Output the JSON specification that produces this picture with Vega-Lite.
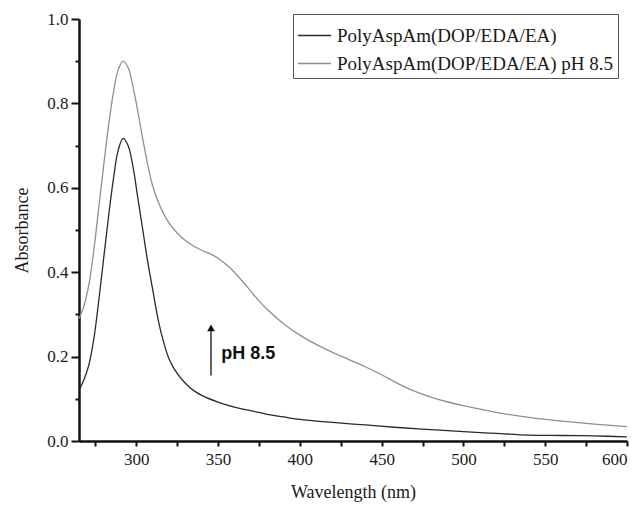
{
  "$schema": "https://vega.github.io/schema/vega-lite/v6.json",
  "width": 548,
  "height": 422,
  "autosize": {"type": "none"},
  "padding": {"left": 79, "top": 19, "right": 15, "bottom": 64},
  "background": "white",
  "config": {
    "view": {"stroke": null},
    "font": "Liberation Serif",
    "axis": {"labelFont": "Liberation Serif", "titleFont": "Liberation Serif", "labelColor": "#1a1a1a", "titleColor": "#1a1a1a", "domainColor": "#111111", "tickColor": "#111111", "grid": false, "labelFontSize": 17, "titleFontSize": 18, "titleFontWeight": "normal", "domain": true, "ticks": true, "domainWidth": 2.5, "tickWidth": 2}
  },
  "datasets": {
    "spectra": [
      {"s": "PolyAspAm(DOP/EDA/EA)", "wl": 265, "a": 0.12},
      {"s": "PolyAspAm(DOP/EDA/EA)", "wl": 268, "a": 0.145},
      {"s": "PolyAspAm(DOP/EDA/EA)", "wl": 271, "a": 0.18},
      {"s": "PolyAspAm(DOP/EDA/EA)", "wl": 274, "a": 0.24},
      {"s": "PolyAspAm(DOP/EDA/EA)", "wl": 277, "a": 0.33},
      {"s": "PolyAspAm(DOP/EDA/EA)", "wl": 280, "a": 0.43},
      {"s": "PolyAspAm(DOP/EDA/EA)", "wl": 283, "a": 0.53},
      {"s": "PolyAspAm(DOP/EDA/EA)", "wl": 286, "a": 0.62},
      {"s": "PolyAspAm(DOP/EDA/EA)", "wl": 289, "a": 0.69},
      {"s": "PolyAspAm(DOP/EDA/EA)", "wl": 292, "a": 0.717},
      {"s": "PolyAspAm(DOP/EDA/EA)", "wl": 295, "a": 0.70},
      {"s": "PolyAspAm(DOP/EDA/EA)", "wl": 298, "a": 0.65},
      {"s": "PolyAspAm(DOP/EDA/EA)", "wl": 301, "a": 0.575},
      {"s": "PolyAspAm(DOP/EDA/EA)", "wl": 304, "a": 0.50},
      {"s": "PolyAspAm(DOP/EDA/EA)", "wl": 307, "a": 0.425},
      {"s": "PolyAspAm(DOP/EDA/EA)", "wl": 310, "a": 0.36},
      {"s": "PolyAspAm(DOP/EDA/EA)", "wl": 313, "a": 0.295},
      {"s": "PolyAspAm(DOP/EDA/EA)", "wl": 316, "a": 0.245},
      {"s": "PolyAspAm(DOP/EDA/EA)", "wl": 320, "a": 0.195},
      {"s": "PolyAspAm(DOP/EDA/EA)", "wl": 325, "a": 0.16},
      {"s": "PolyAspAm(DOP/EDA/EA)", "wl": 330, "a": 0.137},
      {"s": "PolyAspAm(DOP/EDA/EA)", "wl": 335, "a": 0.12},
      {"s": "PolyAspAm(DOP/EDA/EA)", "wl": 340, "a": 0.108},
      {"s": "PolyAspAm(DOP/EDA/EA)", "wl": 350, "a": 0.092},
      {"s": "PolyAspAm(DOP/EDA/EA)", "wl": 360, "a": 0.080},
      {"s": "PolyAspAm(DOP/EDA/EA)", "wl": 370, "a": 0.072},
      {"s": "PolyAspAm(DOP/EDA/EA)", "wl": 380, "a": 0.063},
      {"s": "PolyAspAm(DOP/EDA/EA)", "wl": 390, "a": 0.057},
      {"s": "PolyAspAm(DOP/EDA/EA)", "wl": 400, "a": 0.051},
      {"s": "PolyAspAm(DOP/EDA/EA)", "wl": 420, "a": 0.044},
      {"s": "PolyAspAm(DOP/EDA/EA)", "wl": 440, "a": 0.038},
      {"s": "PolyAspAm(DOP/EDA/EA)", "wl": 460, "a": 0.032},
      {"s": "PolyAspAm(DOP/EDA/EA)", "wl": 480, "a": 0.027},
      {"s": "PolyAspAm(DOP/EDA/EA)", "wl": 500, "a": 0.022},
      {"s": "PolyAspAm(DOP/EDA/EA)", "wl": 520, "a": 0.018},
      {"s": "PolyAspAm(DOP/EDA/EA)", "wl": 540, "a": 0.014},
      {"s": "PolyAspAm(DOP/EDA/EA)", "wl": 560, "a": 0.013},
      {"s": "PolyAspAm(DOP/EDA/EA)", "wl": 580, "a": 0.012},
      {"s": "PolyAspAm(DOP/EDA/EA)", "wl": 600, "a": 0.010},
      {"s": "PolyAspAm(DOP/EDA/EA) pH 8.5", "wl": 265, "a": 0.29},
      {"s": "PolyAspAm(DOP/EDA/EA) pH 8.5", "wl": 268, "a": 0.32},
      {"s": "PolyAspAm(DOP/EDA/EA) pH 8.5", "wl": 271, "a": 0.37},
      {"s": "PolyAspAm(DOP/EDA/EA) pH 8.5", "wl": 274, "a": 0.45},
      {"s": "PolyAspAm(DOP/EDA/EA) pH 8.5", "wl": 277, "a": 0.55},
      {"s": "PolyAspAm(DOP/EDA/EA) pH 8.5", "wl": 280, "a": 0.65},
      {"s": "PolyAspAm(DOP/EDA/EA) pH 8.5", "wl": 283, "a": 0.745},
      {"s": "PolyAspAm(DOP/EDA/EA) pH 8.5", "wl": 286, "a": 0.825},
      {"s": "PolyAspAm(DOP/EDA/EA) pH 8.5", "wl": 289, "a": 0.88},
      {"s": "PolyAspAm(DOP/EDA/EA) pH 8.5", "wl": 292, "a": 0.90},
      {"s": "PolyAspAm(DOP/EDA/EA) pH 8.5", "wl": 295, "a": 0.885},
      {"s": "PolyAspAm(DOP/EDA/EA) pH 8.5", "wl": 298, "a": 0.84},
      {"s": "PolyAspAm(DOP/EDA/EA) pH 8.5", "wl": 301, "a": 0.78},
      {"s": "PolyAspAm(DOP/EDA/EA) pH 8.5", "wl": 304, "a": 0.715},
      {"s": "PolyAspAm(DOP/EDA/EA) pH 8.5", "wl": 307, "a": 0.655},
      {"s": "PolyAspAm(DOP/EDA/EA) pH 8.5", "wl": 310, "a": 0.605},
      {"s": "PolyAspAm(DOP/EDA/EA) pH 8.5", "wl": 315, "a": 0.552},
      {"s": "PolyAspAm(DOP/EDA/EA) pH 8.5", "wl": 320, "a": 0.517},
      {"s": "PolyAspAm(DOP/EDA/EA) pH 8.5", "wl": 325, "a": 0.493},
      {"s": "PolyAspAm(DOP/EDA/EA) pH 8.5", "wl": 330, "a": 0.475},
      {"s": "PolyAspAm(DOP/EDA/EA) pH 8.5", "wl": 335, "a": 0.462},
      {"s": "PolyAspAm(DOP/EDA/EA) pH 8.5", "wl": 340, "a": 0.452},
      {"s": "PolyAspAm(DOP/EDA/EA) pH 8.5", "wl": 345, "a": 0.444},
      {"s": "PolyAspAm(DOP/EDA/EA) pH 8.5", "wl": 350, "a": 0.433},
      {"s": "PolyAspAm(DOP/EDA/EA) pH 8.5", "wl": 355, "a": 0.418},
      {"s": "PolyAspAm(DOP/EDA/EA) pH 8.5", "wl": 360, "a": 0.40},
      {"s": "PolyAspAm(DOP/EDA/EA) pH 8.5", "wl": 365, "a": 0.378},
      {"s": "PolyAspAm(DOP/EDA/EA) pH 8.5", "wl": 370, "a": 0.355},
      {"s": "PolyAspAm(DOP/EDA/EA) pH 8.5", "wl": 375, "a": 0.332},
      {"s": "PolyAspAm(DOP/EDA/EA) pH 8.5", "wl": 380, "a": 0.312},
      {"s": "PolyAspAm(DOP/EDA/EA) pH 8.5", "wl": 390, "a": 0.278},
      {"s": "PolyAspAm(DOP/EDA/EA) pH 8.5", "wl": 400, "a": 0.251},
      {"s": "PolyAspAm(DOP/EDA/EA) pH 8.5", "wl": 410, "a": 0.229},
      {"s": "PolyAspAm(DOP/EDA/EA) pH 8.5", "wl": 420, "a": 0.21},
      {"s": "PolyAspAm(DOP/EDA/EA) pH 8.5", "wl": 430, "a": 0.193},
      {"s": "PolyAspAm(DOP/EDA/EA) pH 8.5", "wl": 440, "a": 0.176},
      {"s": "PolyAspAm(DOP/EDA/EA) pH 8.5", "wl": 450, "a": 0.157},
      {"s": "PolyAspAm(DOP/EDA/EA) pH 8.5", "wl": 460, "a": 0.136},
      {"s": "PolyAspAm(DOP/EDA/EA) pH 8.5", "wl": 470, "a": 0.118},
      {"s": "PolyAspAm(DOP/EDA/EA) pH 8.5", "wl": 480, "a": 0.104},
      {"s": "PolyAspAm(DOP/EDA/EA) pH 8.5", "wl": 490, "a": 0.093},
      {"s": "PolyAspAm(DOP/EDA/EA) pH 8.5", "wl": 500, "a": 0.084},
      {"s": "PolyAspAm(DOP/EDA/EA) pH 8.5", "wl": 520, "a": 0.068},
      {"s": "PolyAspAm(DOP/EDA/EA) pH 8.5", "wl": 540, "a": 0.056},
      {"s": "PolyAspAm(DOP/EDA/EA) pH 8.5", "wl": 560, "a": 0.047},
      {"s": "PolyAspAm(DOP/EDA/EA) pH 8.5", "wl": 580, "a": 0.040},
      {"s": "PolyAspAm(DOP/EDA/EA) pH 8.5", "wl": 600, "a": 0.034}
    ],
    "arrowShaft": [{"wl": 345.7, "a": 0.155, "a2": 0.265}],
    "arrowHead": [{"wl": 345.7, "a": 0.268}],
    "note": [{"wl": 352.0, "a": 0.206, "label": "pH 8.5"}]
  },
  "encoding": {
    "x": {"field": "wl", "type": "quantitative", "scale": {"domain": [265, 600], "nice": false, "zero": false},
          "axis": {"title": "Wavelength (nm)", "values": [275, 300, 325, 350, 375, 400, 425, 450, 475, 500, 525, 550, 575, 600],
                   "labelExpr": "datum.value % 50 == 0 ? datum.label : ''", "tickSize": 5, "labelPadding": 5, "titlePadding": 16}},
    "y": {"field": "a", "type": "quantitative", "scale": {"domain": [0, 1], "nice": false},
          "axis": {"title": "Absorbance", "values": [0, 0.1, 0.2, 0.3, 0.4, 0.5, 0.6, 0.7, 0.8, 0.9, 1.0], "format": ".1f",
                   "labelExpr": "round(datum.value * 10) % 2 == 0 ? datum.label : ''",
                   "tickSize": {"condition": {"test": "round(datum.value * 10) % 2 == 0", "value": 8}, "value": 4},
                   "labelPadding": 3, "titlePadding": 15}}
  },
  "layer": [
    {
      "data": {"name": "spectra"},
      "mark": {"type": "line", "strokeWidth": 1.3, "interpolate": "catmull-rom"},
      "encoding": {
        "color": {"field": "s", "type": "nominal",
                  "scale": {"domain": ["PolyAspAm(DOP/EDA/EA)", "PolyAspAm(DOP/EDA/EA) pH 8.5"], "range": ["#2a2a2a", "#8f8f8f"]},
                  "legend": {"title": null, "orient": "none", "legendX": 214, "legendY": -5, "symbolType": "stroke", "symbolSize": 1100, "symbolStrokeWidth": 1.3, "labelFont": "Liberation Serif", "labelFontSize": 19, "labelColor": "#1a1a1a", "strokeColor": "#555", "padding": 4, "rowPadding": 0, "labelOffset": 5, "labelLimit": 400}}
      }
    },
    {
      "data": {"name": "arrowShaft"},
      "mark": {"type": "rule", "color": "#333", "strokeWidth": 1.5},
      "encoding": {"y2": {"field": "a2"}}
    },
    {
      "data": {"name": "arrowHead"},
      "mark": {"type": "point", "shape": "triangle-up", "filled": true, "color": "#111", "size": 60, "opacity": 1},
      "encoding": {}
    },
    {
      "data": {"name": "note"},
      "mark": {"type": "text", "font": "Liberation Sans", "fontWeight": "bold", "fontSize": 18, "align": "left", "baseline": "middle", "color": "#111"},
      "encoding": {"text": {"field": "label"}}
    }
  ]
}
